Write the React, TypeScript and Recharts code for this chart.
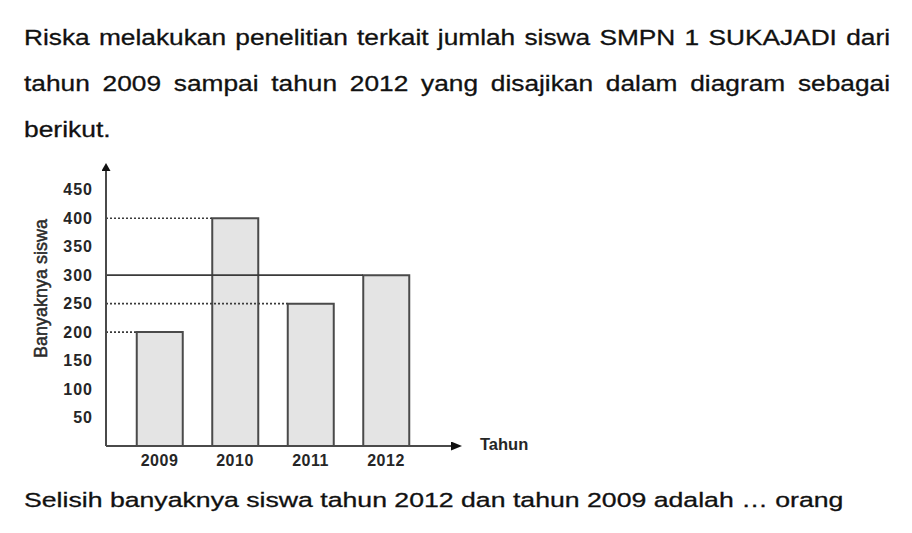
import React from 'react';
import { BarChart, Bar, XAxis, YAxis, ReferenceLine } from 'recharts';

const years = [2009, 2010, 2011, 2012];
const students = [200, 400, 250, 300];
const yTicks = [50, 100, 150, 200, 250, 300, 350, 400, 450];

const guideValues = [400, 300, 250, 200];
const guideYears = [2010, 2012, 2011, 2009];
const guideDashed = [true, false, true, true];

const data = years.map((year, i) => ({ year, students: students[i] }));

const X_MIN = 2008.2914;
const X_MAX = 2012.927;
const BAR_SIZE = 46;
const PX_PER_YEAR = 75.5;
const BAR_HALF_YEARS = BAR_SIZE / 2 / PX_PER_YEAR;

const FONT = '"Liberation Sans", Arial, Helvetica, sans-serif';

const lineStyle = (top: number, width: number | undefined, scale: number, justify: boolean): React.CSSProperties => ({
  position: 'absolute',
  left: 24,
  top,
  width,
  fontSize: 22,
  lineHeight: '46px',
  color: '#111',
  WebkitTextStroke: '0.3px #111',
  textAlign: justify ? 'justify' : 'left',
  textAlignLast: justify ? 'justify' : 'left',
  transform: `scaleX(${scale})`,
  transformOrigin: 'left top',
  whiteSpace: justify ? 'normal' : 'nowrap',
});

export default function App() {
  return (
    <div style={{ position: 'absolute', left: 0, top: 0, width: 912, height: 533, background: '#fff', fontFamily: FONT, overflow: 'hidden' }}>
      <svg width="0" height="0" style={{ position: 'absolute' }}>
        <defs>
          <marker id="arrowRight" markerUnits="userSpaceOnUse" viewBox="0 0 11 9" markerWidth="11" markerHeight="9" refX="5" refY="4.5" orient="auto">
            <path d="M0,0 L11,4.5 L0,9 z" fill="#111" />
          </marker>
          <marker id="arrowUp" markerUnits="userSpaceOnUse" viewBox="0 0 8 9" markerWidth="8" markerHeight="9" refX="4" refY="4.5" orient="auto-start-reverse">
            <path d="M0,0 L8,4.5 L0,9 z" fill="#111" />
          </marker>
        </defs>
      </svg>

      <div style={lineStyle(14.7, 725, 866 / 725, true)}>
        Riska melakukan penelitian terkait jumlah siswa SMPN 1 SUKAJADI dari
      </div>
      <div style={lineStyle(60.9, 725, 866 / 725, true)}>
        tahun 2009 sampai tahun 2012 yang disajikan dalam diagram sebagai
      </div>
      <div style={lineStyle(107.1, undefined, 1.2, false)}>berikut.</div>

      <div
        style={{
          position: 'absolute',
          left: 24,
          top: 488.2,
          fontSize: 20.5,
          lineHeight: '24px',
          color: '#111',
          WebkitTextStroke: '0.3px #111',
          whiteSpace: 'nowrap',
          transform: 'scaleX(1.3)',
          transformOrigin: 'left top',
        }}
      >
        Selisih banyaknya siswa tahun 2012 dan tahun 2009 adalah … orang
      </div>

      <div style={{ position: 'absolute', left: 0, top: 0 }}>
        <BarChart width={912} height={533} data={data} margin={{ top: 167, right: 456, bottom: 47, left: 26 }}>
          <XAxis
            dataKey="year"
            type="number"
            domain={[X_MIN, X_MAX]}
            ticks={years}
            allowDataOverflow
            height={40}
            tickLine={false}
            tickSize={0}
            tickMargin={9}
            axisLine={{ stroke: '#4a4a4a', strokeWidth: 2, markerEnd: 'url(#arrowRight)' } as any}
            tick={{ fill: '#262626', fontSize: 16, fontWeight: 700, fontFamily: FONT, letterSpacing: 0.5 } as any}
            label={{
              content: (p: any) => {
                const vb = p.viewBox || { x: 106, y: 446, width: 350 };
                return (
                  <text x={vb.x + vb.width + 24} y={vb.y - 2.5} dominantBaseline="central" fontSize={16.5} fontWeight={700} fontFamily={FONT} fill="#262626">
                    Tahun
                  </text>
                );
              },
            }}
          />
          <YAxis
            type="number"
            domain={[0, 490]}
            ticks={yTicks}
            allowDataOverflow
            width={80}
            tickLine={false}
            tickSize={0}
            tickMargin={13}
            axisLine={{ stroke: '#4a4a4a', strokeWidth: 2, markerStart: 'url(#arrowUp)' } as any}
            tick={{ fill: '#262626', fontSize: 16, fontWeight: 700, fontFamily: FONT, letterSpacing: 1 } as any}
            label={{
              content: (p: any) => {
                const vb = p.viewBox || { x: 26, y: 167, width: 80, height: 279 };
                const cx = vb.x + 15;
                const cy = vb.y + vb.height / 2 - 18;
                return (
                  <text
                    x={cx}
                    y={cy}
                    transform={`rotate(-90, ${cx}, ${cy})`}
                    textAnchor="middle"
                    dominantBaseline="central"
                    fontSize={18}
                    fontFamily={FONT}
                    fill="#2a2a2a"
                    stroke="#2a2a2a"
                    strokeWidth={0.5}
                  >
                    Banyaknya siswa
                  </text>
                );
              },
            }}
          />
          <Bar dataKey="students" barSize={BAR_SIZE} fill="#e4e4e4" stroke="#4a4a4a" strokeWidth={2} isAnimationActive={false} />
          {guideValues.map((v, i) => (
            <ReferenceLine
              key={v}
              ifOverflow="visible"
              segment={[
                { x: X_MIN, y: v },
                { x: guideYears[i] - BAR_HALF_YEARS, y: v },
              ]}
              stroke="#3a3a3a"
              strokeWidth={guideDashed[i] ? 1.6 : 1.8}
              strokeDasharray={guideDashed[i] ? '2 2' : undefined}
            />
          ))}
        </BarChart>
      </div>
    </div>
  );
}
